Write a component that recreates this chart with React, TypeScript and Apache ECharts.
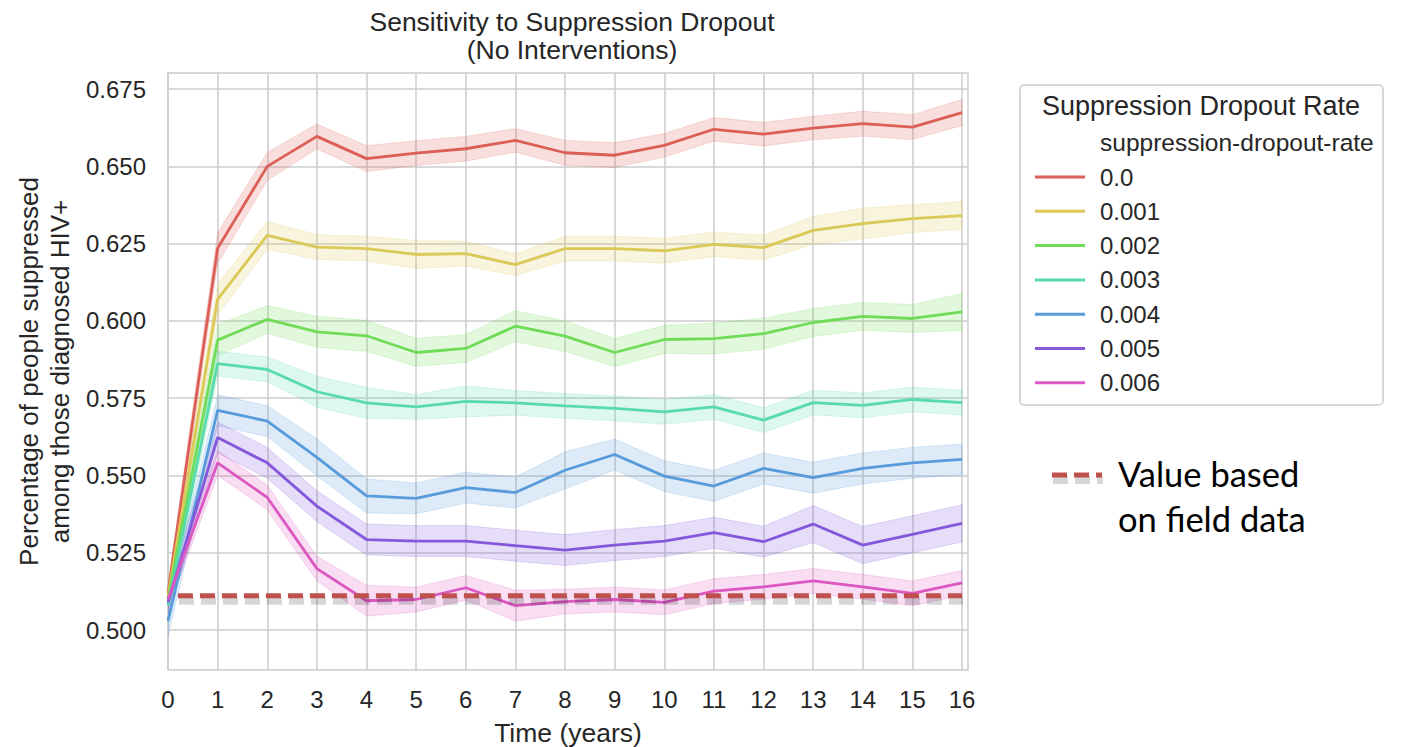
import React, { useEffect, useRef } from "react";
import * as echarts from "echarts";

const years = [0, 1, 2, 3, 4, 5, 6, 7, 8, 9, 10, 11, 12, 13, 14, 15, 16];
const yTicks = [0.5, 0.525, 0.55, 0.575, 0.6, 0.625, 0.65, 0.675];
const rateNames = ["0.0", "0.001", "0.002", "0.003", "0.004", "0.005", "0.006"];
const rateColors = ["#db5f57", "#dbc957", "#6fdb57", "#57dbaa", "#579bdb", "#8457db", "#db57c1"];

const rate0 = [0.512, 0.6235, 0.65, 0.6597, 0.6525, 0.6543, 0.6557, 0.6584, 0.6544, 0.6536, 0.6568, 0.662, 0.6604, 0.6624, 0.6638, 0.6627, 0.6674];
const rate001 = [0.511, 0.607, 0.6277, 0.6239, 0.6234, 0.6215, 0.6218, 0.6182, 0.6234, 0.6234, 0.6227, 0.6248, 0.6237, 0.6293, 0.6315, 0.6331, 0.6341];
const rate002 = [0.51, 0.5938, 0.6005, 0.5965, 0.5952, 0.5898, 0.5911, 0.5983, 0.5951, 0.5898, 0.594, 0.5943, 0.5959, 0.5995, 0.6015, 0.6008, 0.6029];
const rate003 = [0.508, 0.5862, 0.5843, 0.5771, 0.5735, 0.5722, 0.574, 0.5735, 0.5725, 0.5717, 0.5706, 0.5722, 0.5679, 0.5736, 0.5727, 0.5746, 0.5736];
const rate004 = [0.503, 0.5711, 0.5676, 0.5559, 0.5434, 0.5426, 0.5461, 0.5445, 0.5517, 0.5568, 0.5498, 0.5466, 0.5523, 0.5493, 0.5523, 0.5541, 0.5552];
const rate005 = [0.509, 0.5623, 0.5541, 0.5401, 0.5293, 0.5288, 0.5288, 0.5273, 0.5259, 0.5275, 0.5288, 0.5315, 0.5286, 0.5343, 0.5275, 0.531, 0.5345];
const rate006 = [0.51, 0.5541, 0.5429, 0.5199, 0.5095, 0.5099, 0.5137, 0.5079, 0.5092, 0.5099, 0.509, 0.5126, 0.514, 0.5159, 0.514, 0.5119, 0.5153];

const ci0 = [0.003, 0.005, 0.0045, 0.004, 0.0042, 0.004, 0.004, 0.0038, 0.004, 0.004, 0.0038, 0.0038, 0.0038, 0.0038, 0.004, 0.004, 0.0042];
const ci001 = [0.003, 0.005, 0.0045, 0.004, 0.004, 0.0045, 0.004, 0.0035, 0.004, 0.004, 0.004, 0.004, 0.004, 0.0045, 0.005, 0.0045, 0.0045];
const ci002 = [0.003, 0.005, 0.0045, 0.005, 0.005, 0.0045, 0.0045, 0.005, 0.005, 0.0045, 0.0045, 0.005, 0.005, 0.0045, 0.0045, 0.0045, 0.006];
const ci003 = [0.004, 0.004, 0.004, 0.005, 0.005, 0.004, 0.005, 0.004, 0.004, 0.004, 0.004, 0.004, 0.004, 0.004, 0.004, 0.004, 0.004];
const ci004 = [0.005, 0.005, 0.005, 0.006, 0.0055, 0.005, 0.005, 0.005, 0.006, 0.005, 0.005, 0.005, 0.005, 0.005, 0.005, 0.005, 0.005];
const ci005 = [0.004, 0.005, 0.005, 0.005, 0.005, 0.005, 0.005, 0.005, 0.005, 0.005, 0.005, 0.005, 0.005, 0.006, 0.006, 0.006, 0.006];
const ci006 = [0.003, 0.004, 0.004, 0.004, 0.005, 0.004, 0.004, 0.005, 0.004, 0.004, 0.004, 0.004, 0.004, 0.004, 0.004, 0.004, 0.004];

const fieldValue = 0.5111;
const fieldX = [0.2, 16];

const means = [rate0, rate001, rate002, rate003, rate004, rate005, rate006];
const cis = [ci0, ci001, ci002, ci003, ci004, ci005, ci006];

const FONT = "Liberation Sans, Arial, sans-serif";
const FIELD_COLOR = "#c0504d";
const SHADOW = "rgba(0,0,0,0.16)";

export default function App() {
  const ref = useRef<HTMLDivElement>(null);
  useEffect(() => {
    if (!ref.current) return;
    const chart = echarts.init(ref.current, undefined, { renderer: "svg" });
    const series: any[] = [];
    means.forEach((m, i) => {
      const c = rateColors[i];
      const ci = cis[i];
      series.push({
        name: "_band" + i,
        type: "custom",
        silent: true,
        z: 1,
        clip: true,
        data: years.map((x, k) => [x, m[k] - ci[k], m[k] + ci[k]]),
        encode: { x: 0, y: [1, 2] },
        renderItem: (params: any, api: any) => {
          if (params.dataIndex !== 0) return null;
          const upper = years.map((x, k) => api.coord([x, m[k] + ci[k]]));
          const lower = years.map((x, k) => api.coord([x, m[k] - ci[k]])).reverse();
          return {
            type: "polygon",
            shape: { points: upper.concat(lower) },
            style: { fill: c, opacity: 0.2, stroke: c, lineWidth: 1 },
          };
        },
      });
    });
    means.forEach((m, i) => {
      series.push({
        name: rateNames[i],
        type: "line",
        data: years.map((x, k) => [x, m[k]]),
        symbol: "none",
        color: rateColors[i],
        lineStyle: { color: rateColors[i], width: 2.8 },
        z: 3,
      });
    });
    series.push({
      name: "Value based on field data",
      type: "custom",
      silent: true,
      z: 4,
      data: [[fieldX[0], fieldValue, fieldX[1]]],
      encode: { x: [0, 2], y: 1 },
      renderItem: (params: any, api: any) => {
        const p1 = api.coord([fieldX[0], fieldValue]);
        const p2 = api.coord([fieldX[1], fieldValue]);
        return {
          type: "group",
          children: [
            {
              type: "line",
              shape: { x1: p1[0] + 1, y1: p1[1] + 5, x2: p2[0] + 1, y2: p2[1] + 5 },
              style: { stroke: SHADOW, lineWidth: 8, lineDash: [15, 7] },
            },
            {
              type: "line",
              shape: { x1: p1[0], y1: p1[1], x2: p2[0], y2: p2[1] },
              style: { stroke: FIELD_COLOR, lineWidth: 5, lineDash: [15, 7] },
            },
          ],
        };
      },
    });

    chart.setOption({
      animation: false,
      backgroundColor: "#ffffff",
      textStyle: { fontFamily: FONT },
      title: {
        text: "Sensitivity to Suppression Dropout\n(No Interventions)",
        left: 567,
        top: 3,
        textAlign: "center",
        textStyle: { fontFamily: FONT, fontSize: 26.5, lineHeight: 28, fontWeight: "normal", color: "#262626" },
      },
      grid: {
        left: 168,
        right: 433,
        top: 73,
        bottom: 77,
        outerBoundsMode: "none",
        containLabel: false,
        show: true,
        borderColor: "#cccccc",
        borderWidth: 1.5,
        backgroundColor: "transparent",
      },
      xAxis: {
        type: "value",
        min: 0,
        max: 16.12,
        name: "Time (years)",
        nameLocation: "middle",
        nameGap: 49,
        nameTextStyle: { fontFamily: FONT, fontSize: 26.5, color: "#262626" },
        axisLine: { show: false },
        axisTick: { show: false, customValues: years },
        axisLabel: {
          customValues: years,
          fontFamily: FONT,
          fontSize: 24,
          color: "#262626",
          margin: 17,
          formatter: (v: number) => String(v),
        },
        splitLine: { show: true, lineStyle: { color: "#cccccc", width: 1.5 } },
      },
      yAxis: {
        type: "value",
        min: 0.4871,
        max: 0.6802,
        name: "Percentage of people suppressed\namong those diagnosed HIV+",
        nameLocation: "middle",
        nameGap: 86,
        nameTextStyle: { fontFamily: FONT, fontSize: 26, lineHeight: 31, color: "#262626" },
        axisLine: { show: false },
        axisTick: { show: false, customValues: yTicks },
        axisLabel: {
          customValues: yTicks,
          fontFamily: FONT,
          fontSize: 24,
          color: "#262626",
          margin: 22,
          formatter: (v: number) => v.toFixed(3),
        },
        splitLine: { show: true, lineStyle: { color: "#cccccc", width: 1.5 } },
      },
      legend: {
        data: rateNames,
        orient: "vertical",
        left: 1030,
        top: 160,
        icon: "rect",
        itemWidth: 50,
        itemHeight: 3,
        itemGap: 10.3,
        textStyle: { fontFamily: FONT, fontSize: 24, lineHeight: 24, color: "#262626", padding: [0, 0, 0, 10] },
      },
      graphic: [
        {
          type: "rect",
          shape: { x: 1020, y: 85, width: 363, height: 320, r: 4 },
          style: { fill: "#ffffff", stroke: "#cccccc", lineWidth: 1.5 },
          z: -1,
          silent: true,
        },
        {
          type: "text",
          x: 1201,
          y: 106,
          style: {
            text: "Suppression Dropout Rate",
            fontFamily: FONT,
            fontSize: 27,
            fill: "#262626",
            align: "center",
            verticalAlign: "middle",
          },
        },
        {
          type: "text",
          x: 1100,
          y: 142,
          style: {
            text: "suppression-dropout-rate",
            fontFamily: FONT,
            fontSize: 24.5,
            fill: "#262626",
            align: "left",
            verticalAlign: "middle",
          },
        },
        {
          type: "line",
          shape: { x1: 1053, y1: 480, x2: 1103, y2: 480 },
          style: { stroke: SHADOW, lineWidth: 8, lineDash: [15, 7] },
        },
        {
          type: "line",
          shape: { x1: 1052, y1: 475, x2: 1102, y2: 475 },
          style: { stroke: FIELD_COLOR, lineWidth: 5, lineDash: [15, 7] },
        },
        {
          type: "text",
          x: 1118,
          y: 496,
          style: {
            text: "Value based\non field data",
            fontFamily: "Lato, Open Sans, sans-serif",
            fontSize: 34.5,
            lineHeight: 45,
            fill: "#000000",
            align: "left",
            verticalAlign: "middle",
          },
        },
      ],
      series,
    });
    return () => chart.dispose();
  }, []);
  return <div ref={ref} style={{ position: "fixed", left: 0, top: 0, width: 1401, height: 747 }} />;
}
